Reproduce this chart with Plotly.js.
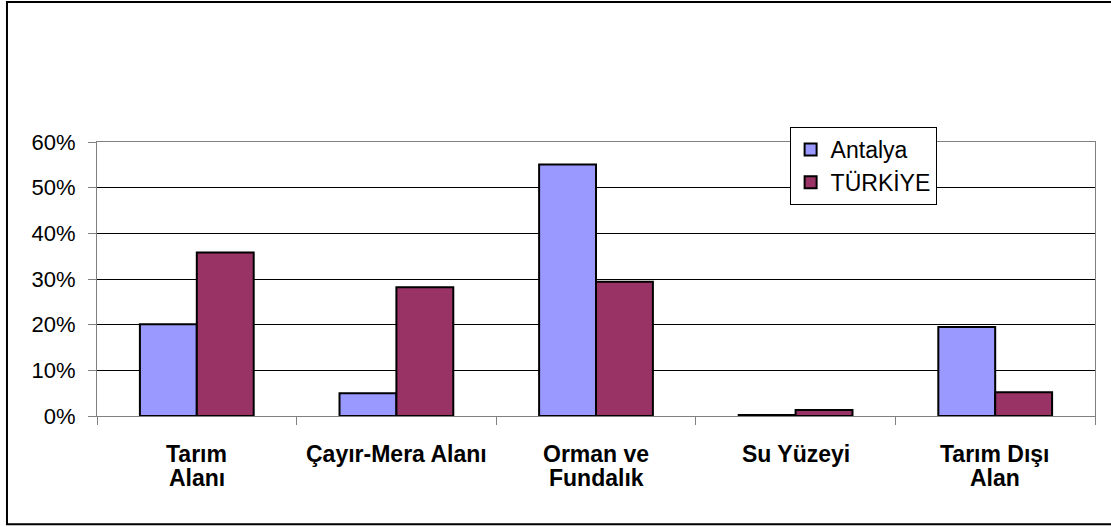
<!DOCTYPE html>
<html>
<head>
<meta charset="utf-8">
<script src="https://cdn.plot.ly/plotly-3.0.1.min.js"></script>
<style>
html,body{margin:0;padding:0;background:#fff;}
#chart{width:1111px;height:527px;}
</style>
</head>
<body>
<div id="chart"></div>
<script>
const categories = ['Tarım Alanı', 'Çayır-Mera Alanı', 'Orman ve Fundalık', 'Su Yüzeyi', 'Tarım Dışı Alan'];
const labelLines = [['Tarım', 'Alanı'], ['Çayır-Mera Alanı'], ['Orman ve', 'Fundalık'], ['Su Yüzeyi'], ['Tarım Dışı', 'Alan']];
const antalya = [0.201, 0.050, 0.551, 0.002, 0.195];
const turkiye = [0.358, 0.282, 0.294, 0.013, 0.052];
const yTicks = [0, 0.1, 0.2, 0.3, 0.4, 0.5, 0.6];
const yTickText = ['0%', '10%', '20%', '30%', '40%', '50%', '60%'];

const FONT = 'Liberation Sans, Arial, sans-serif';

const traces = [
  {type: 'bar', name: 'Antalya', x: categories, y: antalya,
   marker: {color: '#9999FF', line: {color: '#000000', width: 2}}, hoverinfo: 'x+y'},
  {type: 'bar', name: 'TÜRKİYE', x: categories, y: turkiye,
   marker: {color: '#993366', line: {color: '#000000', width: 2}}, hoverinfo: 'x+y'}
];

const annotations = [];
labelLines.forEach((lines, i) => {
  lines.forEach((t, j) => {
    annotations.push({
      x: categories[i], xref: 'x', y: -0.1385 - j * 0.087, yref: 'paper',
      text: '<b>' + t + '</b>', showarrow: false,
      xanchor: 'center', yanchor: 'middle',
      font: {family: FONT, size: 23, color: '#000'}
    });
  });
});

const layout = {
  width: 1111, height: 527,
  margin: {l: 97, r: 16, t: 141.7, b: 111},
  paper_bgcolor: '#ffffff', plot_bgcolor: '#ffffff',
  barmode: 'group', bargap: 0.43, bargroupgap: 0,
  font: {family: FONT, color: '#000'},
  xaxis: {
    type: 'category', showticklabels: false,
    tickson: 'boundaries', ticks: 'outside', ticklen: 8, tickcolor: '#808080', tickwidth: 1,
    showline: true, linecolor: '#808080', linewidth: 1, mirror: true,
    showgrid: false, zeroline: false
  },
  yaxis: {
    range: [0, 0.6], tickvals: yTicks, ticktext: yTickText,
    ticks: 'outside', ticklen: 8, tickcolor: '#808080', tickwidth: 1,
    ticklabelstandoff: 8,
    tickfont: {family: FONT, size: 22, color: '#000'},
    showline: true, linecolor: '#808080', linewidth: 1, mirror: true,
    showgrid: true, gridcolor: '#000000', gridwidth: 1, zeroline: false
  },
  legend: {
    x: 0.694, y: 1.0547, xanchor: 'left', yanchor: 'top',
    bgcolor: '#ffffff', bordercolor: '#000000', borderwidth: 1,
    font: {family: FONT, size: 23, color: '#000'},
    itemwidth: 30, tracegroupgap: 0
  },
  annotations: annotations,
  shapes: [{
    type: 'rect', xref: 'paper', yref: 'paper',
    x0: -0.0902, x1: 1.02, y0: -0.3955, y1: 1.511,
    line: {color: '#000000', width: 2}, fillcolor: 'rgba(0,0,0,0)', layer: 'below'
  }],
  showlegend: true
};

Plotly.newPlot('chart', traces, layout, {displayModeBar: false, staticPlot: true});
</script>
</body>
</html>
